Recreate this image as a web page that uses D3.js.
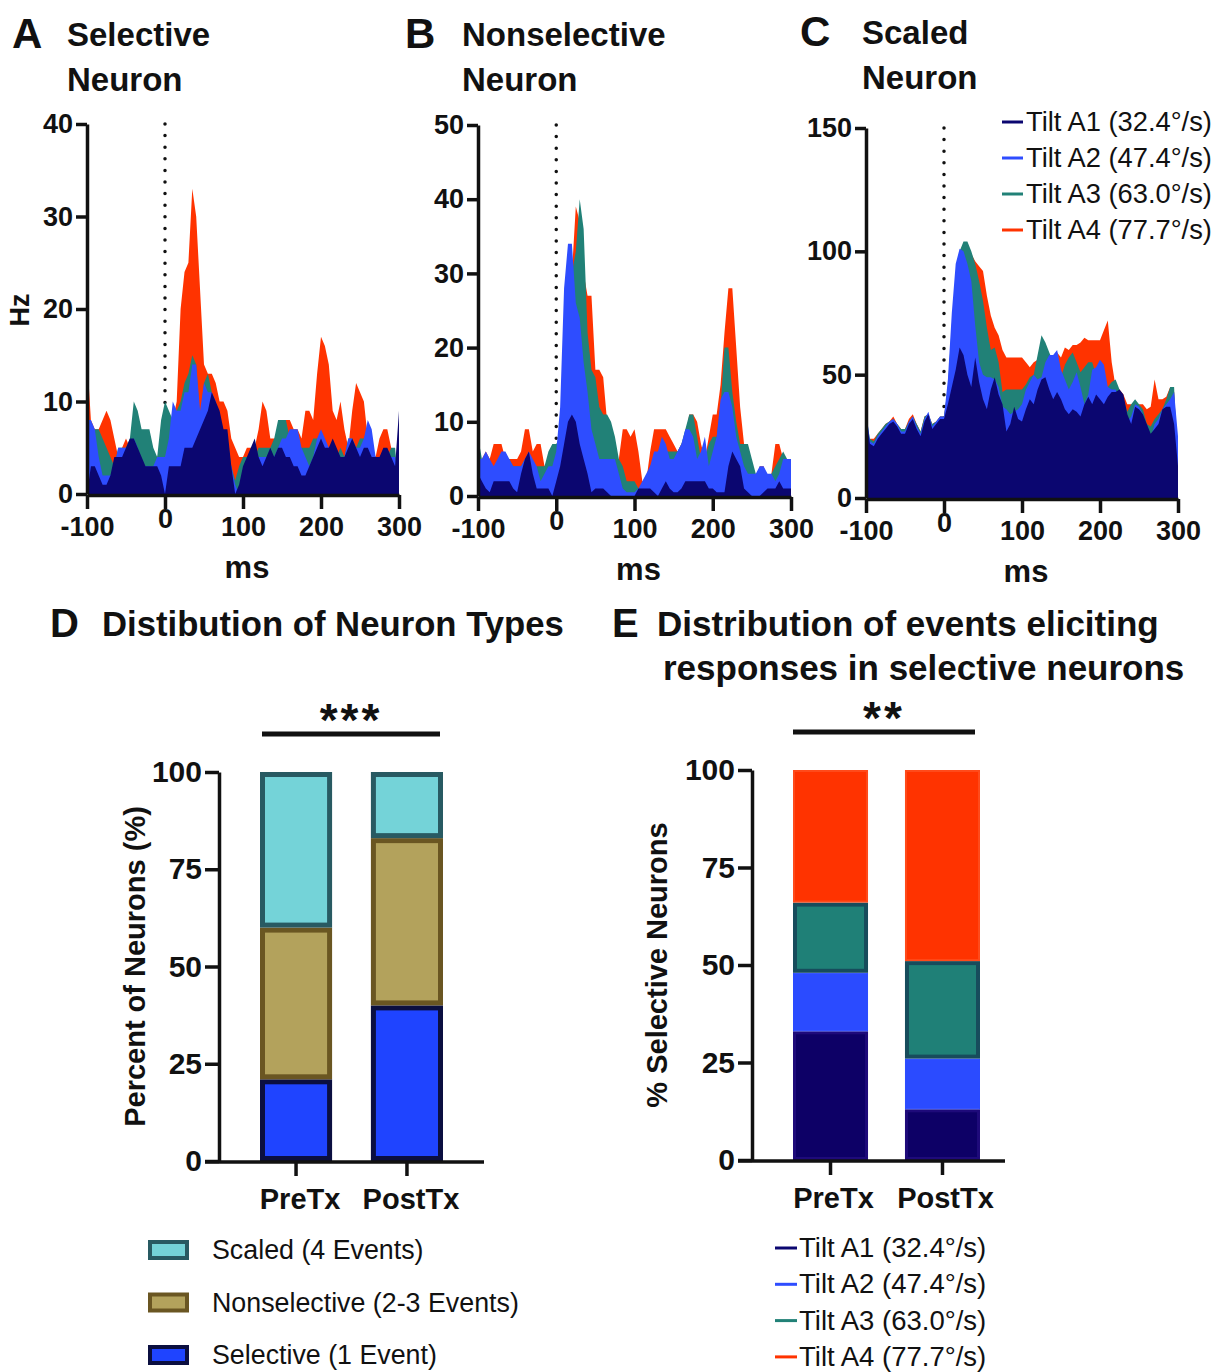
<!DOCTYPE html>
<html>
<head>
<meta charset="utf-8">
<title>Tilt responses of neurons</title>
<script src="https://d3js.org/d3.v7.min.js"></script>
<style>
  body { margin: 0; background: #fff; }
  svg text { font-family: "Liberation Sans", Arial, Helvetica, sans-serif; fill: #111; }
</style>
</head>
<body>
<script>
// PSTH time bins (ms), 5 ms wide
var timeMs = d3.range(-100, 301, 5);

var tiltNames = ["Tilt A1 (32.4°/s)", "Tilt A2 (47.4°/s)", "Tilt A3 (63.0°/s)", "Tilt A4 (77.7°/s)"];
var tiltColors = ["#0b0670", "#2e4dff", "#218177", "#ff3300"];

// A - selective neuron (Hz)
var selA1 = [0,3,3,2,1,1,2,4,4,4, 5,6,6,5,4,3,3,3,3,2, 0,3,3,3,3,5,5,5,6,7, 8,9,11,10,9,7,7,3,0,1,
  3,4,5,6,4,3,4,5,4,5, 5,4,4,3,3,2,2,3,4,5, 6,5,5,6,5,4,4,5,6,5, 4,5,5,4,4,4,5,5,4,3, 9];
var selA2 = [8,8,7,4,2,2,2,3,5,5, 5,5,6,5,3,3,3,3,4,4, 4,6,10,9,9,11,11,14,14,9, 12,11,11,10,6,5,4.5,3,1,0,
  2,3,4,4,4,4,4,4,4,5, 6,6,7,7,7,5,4,3,4,6, 7,6,5,4,4,4,4,6,6,5, 5,6,8,7,4,4,4,4,4,4, 1];
var selA3 = [6,7,7,7,6,5,4,3,5,5, 5,6,10,9,7,7,7,5,4,8, 10,9,8,9,10,12,13,15,14,8, 12,13,11,8,7,6,6,3,1.5,3,
  4,4,4,4,5,5,5,5,6,8, 8,8,6,5,5,5,5,5,6,6, 6,5,5,5,4,5,4,6,6,5, 6,6,7,5,4,4,4,4,5,5, 0];
var selA4 = [15,8,7,7,8,9,8,6,4,5, 6,5,5,5,5,4,4,3,4,5, 5,5,8,10,20,24,25,33,30,22, 14,13,13,12,10,10,9,6,5,4,
  4,5,5,5,7,10,9,6,6,6, 7,8,8,7,7,6,9,9,8,13, 17,16,14,9,8,10,7,5,9,12, 11,10,6,5,4,6,7,7,5,4, 0];

// B - nonselective neuron (Hz)
var nonA1 = [3,2,1,0.5,2,2,2,2,2,1, 0.5,3,5,6,3,1,1,1,1,0, 2,4,7,10,11,10,7,5,3,0.5, 1,1,1,0.5,0,0,0,0,0,0,
  0,1,1,1,1,0.5,0,1,2,1, 0.5,0.5,1,2,2,2,2,2,2,1, 1,0.5,0.5,0.5,4,6,5,4,1,0.5, 0,0,0,0.5,1,1,1,2,1,1, 1];
var nonA2 = [5,5,6,5,4,5,6,6,5,4, 4,4,5,6,5,4,2,3,4,4, 6,12,28,34,34,26,24,18,14,9, 7,5,5,5,5,5,3,1,0.5,0.5,
  0.5,1,2,3,4,6,6,8,7,5, 5,6,7,9,9,8,5,6,8,4, 6,8,13,14,14,12,8,6,4,3, 3,3,4,4,3,3,2,3,5,5, 5];
var nonA3 = [8,5,5,4,4,4,5,5,5,4, 4,4,5,5,4,4,4,4,6,7, 7,8,12,20,30,33,40,36,22,17, 16,12,11,11,10,8,5,4,2,2,
  2,1,1,1,4,5,6,6,6,6, 6,6,7,9,11,11,8,5,5,7, 8,8,12,20,20,14,10,7,7,7, 5,3,3,3,2,3,4,5,6,5, 5];
var nonA4 = [4,5,6,5,7,7,7,5,5,5, 5,6,9,9,6,7,7,4,5,6, 6,8,12,20,30,39,37,30,27,27, 17,17,16,10,9,5,5,9,9,8,
  9,6,2,2,6,9,9,9,9,8, 7,6,7,8,11,11,10,7,5,8, 11,11,15,22,28,28,20,12,7,6, 3,2,4,4,2,3,7,7,5,5, 5];

// C - scaled neuron (Hz)
var scaA1 = [34,22,21,24,26,28,30,31,29,26, 26,30,32,28,25,31,34,28,30,32, 32,38,45,52,61,58,50,45,57,47,
  40,36,44,49,42,38,27,30,37,32, 31,36,40,38,44,48,49,44,40,43, 40,36,34,36,35,33,38,41,38,42,
  40,38,41,43,43,44,42,34,30,37, 36,34,30,26,28,30,36,37,37,30, 13];
var scaA2 = [36,23,22,25,27,29,31,32,30,27, 27,31,33,29,26,32,35,29,31,33, 33,48,75,95,101,100,95,88,70,55,
  50,49,49,48,45,37,36,34,35,36, 38,44,47,50,48,49,55,58,58,60, 52,48,44,47,51,45,38,42,52,53,
  56,54,45,44,44,40,36,31,33,38, 37,34,28,24,30,32,36,38,40,43, 25];
var scaA3 = [34,24,23,26,28,30,31,32,30,28, 28,31,33,30,27,33,34,30,31,33, 33,45,70,90,100,104,104,100,95,88,
  80,69,60,61,55,43,44,44,44,44, 44,46,49,50,58,66,63,59,55,52, 49,54,57,59,55,51,53,55,55,50,
  47,45,45,47,48,44,40,35,38,40, 38,36,30,29,32,34,36,40,45,45, 10];
var scaA4 = [10,24,24,26,28,30,31,33,30,28, 28,32,34,30,27,33,34,30,31,33, 33,44,68,88,98,101,101,99,96,94,
  92,82,74,69,66,60,57,57,57,57, 57,55,53,55,56,58,60,58,57,59, 57,61,60,62,62,63,65,64,64,64,
  64,68,72,55,45,44,42,38,38,37, 38,38,36,37,48,40,40,41,45,43, 15];

// D - neuron types (%)
var groups = ["PreTx", "PostTx"];
var typeNames = ["Scaled (4 Events)", "Nonselective (2-3 Events)", "Selective (1 Event)"];
var selectivePct = [21, 40];
var nonselectivePct = [39, 43];
var scaledPct = [40, 17];

// E - events eliciting responses in selective neurons (%)
var tiltA1Pct = [33, 13];
var tiltA2Pct = [15, 13];
var tiltA3Pct = [18, 25];
var tiltA4Pct = [34, 49];

var svg = d3.select("body").append("svg")
  .attr("width", 1222).attr("height", 1372);

var plain = function(d) { return String(d); };

function styleAxis(g, size) {
  g.select(".domain").attr("stroke", "#111").attr("stroke-width", 3.5);
  g.selectAll(".tick line").attr("stroke", "#111").attr("stroke-width", 3.5);
  g.selectAll(".tick text").attr("font-size", size).attr("font-weight", "bold").attr("fill", "#111");
}

function bold(x, y, txt, size, anchor) {
  return svg.append("text").attr("x", x).attr("y", y)
    .attr("font-size", size).attr("font-weight", "bold")
    .attr("text-anchor", anchor || "start").text(txt);
}

// ---------- PSTH panels ----------
var psth = [
  {series: [selA1, selA2, selA3, selA4], yMax: 40, ticks: [0, 10, 20, 30, 40], left: 87, right: 399, top: 124, bottom: 494},
  {series: [nonA1, nonA2, nonA3, nonA4], yMax: 50, ticks: [0, 10, 20, 30, 40, 50], left: 478, right: 791, top: 125, bottom: 496},
  {series: [scaA1, scaA2, scaA3, scaA4], yMax: 150, ticks: [0, 50, 100, 150], left: 866, right: 1178, top: 128, bottom: 498}
];

psth.forEach(function(p) {
  var x = d3.scaleLinear().domain([-100, 300]).range([p.left, p.right]);
  var y = d3.scaleLinear().domain([0, p.yMax]).range([p.bottom, p.top]);
  var g = svg.append("g");

  // stimulus onset
  g.append("line")
    .attr("x1", x(0)).attr("x2", x(0))
    .attr("y1", y(p.yMax)).attr("y2", y(0))
    .attr("stroke", "#111").attr("stroke-width", 3.5)
    .attr("stroke-linecap", "round").attr("stroke-dasharray", "0 11.6");

  var area = d3.area()
    .x(function(d, i) { return x(timeMs[i]); })
    .y0(y(0))
    .y1(function(d) { return y(d); });

  // A4 at the back, A1 in front
  [3, 2, 1, 0].forEach(function(k) {
    g.append("path").datum(p.series[k])
      .attr("d", area).attr("fill", tiltColors[k]);
  });

  var ya = g.append("g").attr("transform", "translate(" + p.left + ",0)")
    .call(d3.axisLeft(y).tickValues(p.ticks).tickFormat(plain).tickSize(11).tickSizeOuter(0).tickPadding(3));
  styleAxis(ya, 27);

  var xa = g.append("g").attr("transform", "translate(0," + (p.bottom + 1) + ")")
    .call(d3.axisBottom(x).tickValues([-100, 0, 100, 200, 300]).tickFormat(plain).tickSize(14).tickSizeOuter(0).tickPadding(8));
  styleAxis(xa, 27);
  xa.selectAll(".tick text").filter(function(d) { return d === 0; }).attr("y", 14);

  bold((p.left + p.right) / 2 + 4, p.bottom + 84, "ms", 31, "middle");
});

bold(20, 310, "Hz", 27, "middle").attr("transform", "rotate(-90,20,310)").attr("dy", "0.35em");

// panel titles
bold(12, 48, "A", 42); bold(67, 46, "Selective", 33); bold(67, 91, "Neuron", 33);
bold(405, 48, "B", 42); bold(462, 46, "Nonselective", 33); bold(462, 91, "Neuron", 33);
bold(800, 46, "C", 42); bold(862, 44, "Scaled", 33); bold(862, 89, "Neuron", 33);

// legend for C
tiltNames.forEach(function(n, i) {
  var cy = 122 + i * 36;
  svg.append("line").attr("x1", 1002).attr("x2", 1023).attr("y1", cy).attr("y2", cy)
    .attr("stroke", tiltColors[i]).attr("stroke-width", 3);
  svg.append("text").attr("x", 1026).attr("y", cy + 9).attr("font-size", 27.3).text(n);
});

// ---------- stacked bar panels ----------
function barPanel(opt) {
  var y = d3.scaleLinear().domain([0, 100]).range([opt.bottom, opt.top]);
  var xb = d3.scaleBand().domain(groups).range(opt.barRange).paddingInner(opt.pad);
  var rows = groups.map(function(gName, i) {
    var r = {group: gName};
    opt.keys.forEach(function(k, j) { r[k] = opt.values[j][i]; });
    return r;
  });
  var stacked = d3.stack().keys(opt.keys)(rows);
  var g = svg.append("g");

  stacked.forEach(function(layer, j) {
    var sw = opt.strokeW[j];
    g.selectAll(null).data(layer).enter().append("rect")
      .attr("x", function(d) { return xb(d.data.group) + sw / 2; })
      .attr("width", xb.bandwidth() - sw)
      .attr("y", function(d) { return y(d[1]) + sw / 2; })
      .attr("height", function(d) { return y(d[0]) - y(d[1]) - sw; })
      .attr("fill", opt.fills[j])
      .attr("stroke", opt.strokes[j]).attr("stroke-width", sw);
  });

  var ya = g.append("g").attr("transform", "translate(" + opt.axisX + ",0)")
    .call(d3.axisLeft(y).tickValues([0, 25, 50, 75, 100]).tickSize(14).tickSizeOuter(0).tickPadding(3));
  styleAxis(ya, 30);

  var xa = g.append("g").attr("transform", "translate(0," + (opt.bottom + 1) + ")")
    .call(d3.axisBottom(xb).tickSize(14).tickSizeOuter(0).tickPadding(12));
  xa.select(".domain").attr("d", "M" + (opt.axisX - 14) + ",0H" + opt.axisEnd);
  styleAxis(xa, 29);
  xa.selectAll(".tick text").attr("dx", opt.labelShift);

  // significance bar
  g.append("line").attr("x1", opt.sig[0]).attr("x2", opt.sig[1])
    .attr("y1", opt.sigY).attr("y2", opt.sigY)
    .attr("stroke", "#111").attr("stroke-width", 5);
  bold((opt.sig[0] + opt.sig[1]) / 2, opt.sigY + 2, opt.stars, 46, "middle").attr("letter-spacing", 3);

  bold(opt.labelX, (opt.top + opt.bottom) / 2, opt.yLabel, 29, "middle")
    .attr("transform", "rotate(-90," + opt.labelX + "," + ((opt.top + opt.bottom) / 2) + ")");
}

barPanel({
  keys: ["sel", "non", "sca"], values: [selectivePct, nonselectivePct, scaledPct],
  fills: ["#1f44ff", "#b3a25c", "#74d3d8"], strokes: ["#0b0f40", "#6a5622", "#285a62"], strokeW: [5, 5, 5],
  top: 772, bottom: 1161, axisX: 219, axisEnd: 484, barRange: [260, 443], pad: 0.35, labelShift: 4,
  sig: [262, 440], sigY: 734, stars: "***", yLabel: "Percent of Neurons (%)", labelX: 145
});

barPanel({
  keys: ["a1", "a2", "a3", "a4"], values: [tiltA1Pct, tiltA2Pct, tiltA3Pct, tiltA4Pct],
  fills: ["#0d0066", "#2b4bff", "#1f8077", "#ff3300"], strokes: ["#1e0a7a", "#2b4bff", "#174c5c", "#ff4a1a"], strokeW: [3, 1, 4, 2],
  top: 770, bottom: 1160, axisX: 752, axisEnd: 1005, barRange: [793, 980], pad: 0.33, labelShift: 3,
  sig: [793, 975], sigY: 732, stars: "**", yLabel: "% Selective Neurons", labelX: 667
});

bold(50, 637, "D", 40); bold(102, 636, "Distibution of Neuron Types", 34.7);
bold(612, 637, "E", 40); bold(657, 636, "Distribution of events eliciting", 35);
bold(663, 680, "responses in selective neurons", 35);

// legend for D
var typeFill = ["#74d3d8", "#b3a25c", "#1f44ff"];
var typeStroke = ["#285a62", "#6a5622", "#0b0f40"];
typeNames.forEach(function(n, i) {
  var cy = 1250 + i * 52.5;
  svg.append("rect").attr("x", 150).attr("y", cy - 8).attr("width", 37).attr("height", 16)
    .attr("fill", typeFill[i]).attr("stroke", typeStroke[i]).attr("stroke-width", 4);
  svg.append("text").attr("x", 212).attr("y", cy + 9).attr("font-size", 26.8).attr("fill", "#222").text(n);
});

// legend for E
tiltNames.forEach(function(n, i) {
  var cy = 1248 + i * 36.3;
  svg.append("line").attr("x1", 775).attr("x2", 797).attr("y1", cy).attr("y2", cy)
    .attr("stroke", tiltColors[i]).attr("stroke-width", 3);
  svg.append("text").attr("x", 799).attr("y", cy + 9).attr("font-size", 27.5).text(n);
});
</script>
</body>
</html>
